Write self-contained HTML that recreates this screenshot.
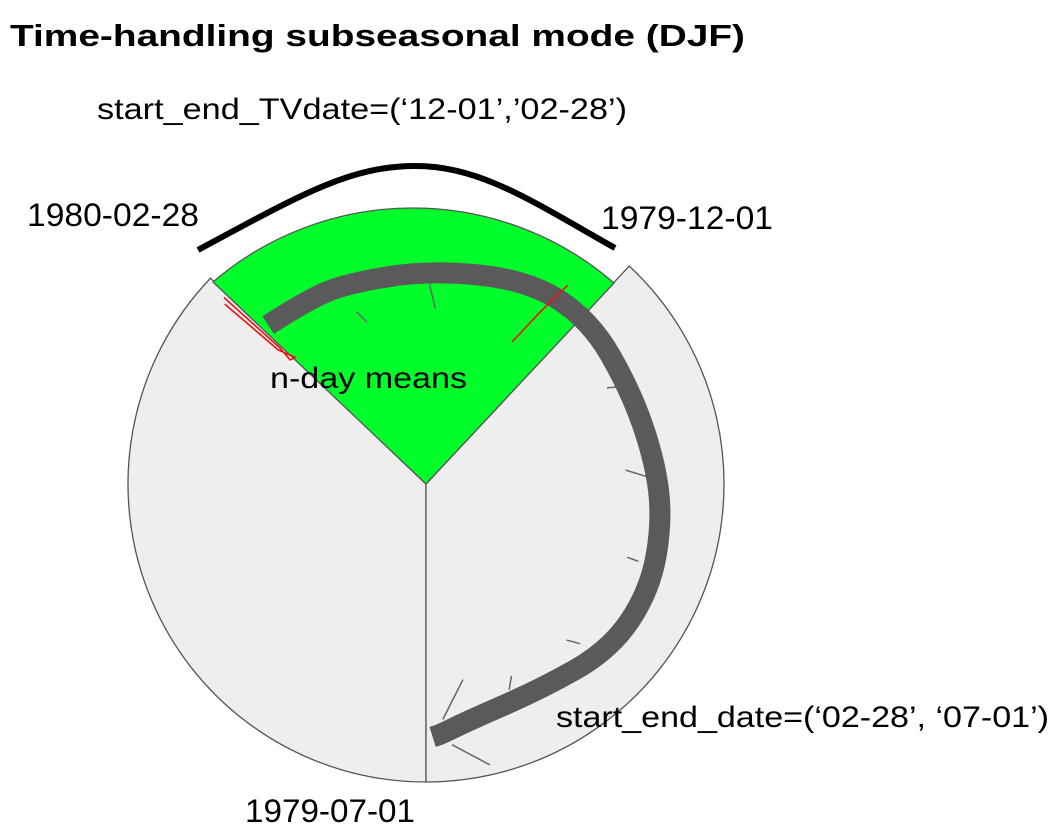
<!DOCTYPE html>
<html><head><meta charset="utf-8"><style>
html,body{margin:0;padding:0;background:#fff;width:1057px;height:840px;overflow:hidden}
text{font-family:"Liberation Sans",sans-serif;fill:#000}
</style></head><body>
<svg id="chart" width="1057" height="840" viewBox="0 0 1057 840">
<text x="10" y="46" font-size="31" font-weight="bold" textLength="735" lengthAdjust="spacingAndGlyphs">Time-handling subseasonal mode (DJF)</text>
<g id="wedges"></g>
<path d="M198,250 C300,195 350,166 415,166 C480,166 530,200 615,248" fill="none" stroke="#000" stroke-width="6"/>
<g id="marks"></g>
<text x="97" y="119" font-size="30" textLength="530" lengthAdjust="spacingAndGlyphs">start_end_TVdate=(‘12-01’,’02-28’)</text>
<text x="27" y="226" font-size="32" textLength="172" lengthAdjust="spacingAndGlyphs">1980-02-28</text>
<text x="601" y="229" font-size="32" textLength="172" lengthAdjust="spacingAndGlyphs">1979-12-01</text>
<text x="270" y="388" font-size="30" textLength="197" lengthAdjust="spacingAndGlyphs">n-day means</text>
<text x="556" y="727" font-size="30" textLength="493" lengthAdjust="spacingAndGlyphs">start_end_date=(‘02-28’, ‘07-01’)</text>
<text x="245" y="822" font-size="32" textLength="170" lengthAdjust="spacingAndGlyphs">1979-07-01</text>
</svg>
<script>
// wedge angles (degrees, screen coords, 0=right, clockwise)
const wedgeNames = ['left-gray-wedge','right-gray-wedge'];
const wedgeStart = [90, 313];
const wedgeEnd = [223.7, 450];
const wedgeFill = ['#eeeeee','#eeeeee'];
// path of time (angle deg, radius px)
const pathAngle = [-134.8,-122,-110.7,-89,-63.5,-45,-24.7,-6,8.7,25.3,42,61,79.4,86.8,88.5];
const pathRadius = [224,219,215,214,228,232,225,230,239,248,248,235,240,251,253];
// tick marks (inner angle, outer angle in deg, inner radius, outer radius)
const tickAngleIn = [-110,-87,-28,-4,20,48,66,79.3,84.3];
const tickAngleOut = [-112,-89,-26,-2,20,46,68,85.9,77.2];
const tickInner = [172,176,205,200,214,210,210,199,262];
const tickOuter = [186,200,222,220,226,222,222,236,288];
// red n-day mean markers
const redLeftA = [-137.3,-137.0,-137.6,-136.0,-137.8,-138.2];
const redLeftR = [275,200,184,182,200,270];
const redRightA = [-58.8,-56.5,-54.5];
const redRightR = [166,205,244];

const cx=426, cy=484, R=298;
const ns='http://www.w3.org/2000/svg';
function px(a,r){const t=a*Math.PI/180;return [cx+r*Math.cos(t),cy+r*Math.sin(t)];}
const wg=document.getElementById('wedges');
for(let i=0;i<wedgeStart.length;i++){
  const p1=px(wedgeStart[i],R), p2=px(wedgeEnd[i],R);
  const large=(wedgeEnd[i]-wedgeStart[i])>180?1:0;
  const el=document.createElementNS(ns,'path');
  el.setAttribute('d',`M${cx},${cy} L${p1[0]},${p1[1]} A${R},${R} 0 ${large} 1 ${p2[0]},${p2[1]} Z`);
  el.setAttribute('fill',wedgeFill[i]);
  el.setAttribute('stroke','#555');
  el.setAttribute('stroke-width','1.3');
  
  
  wg.appendChild(el);
}
const gw=document.createElementNS(ns,'path');
gw.setAttribute('d',`M${cx},${cy} L213,282 A307,307 0 0 1 614,283 Z`);
gw.setAttribute('fill','#00ff2a');gw.setAttribute('stroke','#555');gw.setAttribute('stroke-width','1.3');


wg.appendChild(gw);
const mg=document.getElementById('marks');
for(let i=0;i<tickAngleIn.length;i++){
  const a=px(tickAngleIn[i],tickInner[i]), b=px(tickAngleOut[i],tickOuter[i]);
  const el=document.createElementNS(ns,'line');
  el.setAttribute('x1',a[0]);el.setAttribute('y1',a[1]);el.setAttribute('x2',b[0]);el.setAttribute('y2',b[1]);
  el.setAttribute('stroke','#666');el.setAttribute('stroke-width','1.5');
  
  
  mg.appendChild(el);
}
const pts=pathAngle.map((a,i)=>px(a,pathRadius[i]));
let d=`M${pts[0][0]},${pts[0][1]}`;
for(let i=1;i<pts.length-1;i++){
  const m=[(pts[i][0]+pts[i+1][0])/2,(pts[i][1]+pts[i+1][1])/2];
  d+=` Q${pts[i][0]},${pts[i][1]} ${m[0]},${m[1]}`;
}
d+=` L${pts[pts.length-1][0]},${pts[pts.length-1][1]}`;
const tp=document.createElementNS(ns,'path');
tp.setAttribute('d',d);tp.setAttribute('fill','none');tp.setAttribute('stroke','#5a5a5a');tp.setAttribute('stroke-width','21');tp.setAttribute('stroke-linejoin','round');


mg.appendChild(tp);
function redLine(A,Rr,name){
  const q=A.map((a,i)=>px(a,Rr[i]).join(',')).join(' ');
  const el=document.createElementNS(ns,'polyline');
  el.setAttribute('points',q);el.setAttribute('fill','none');el.setAttribute('stroke','#ee1111');el.setAttribute('stroke-width','1.6');
  
  
  mg.appendChild(el);
}
redLine(redLeftA,redLeftR,'red-marker-left');
redLine(redRightA,redRightR,'red-marker-right');
</script>
</body></html>
